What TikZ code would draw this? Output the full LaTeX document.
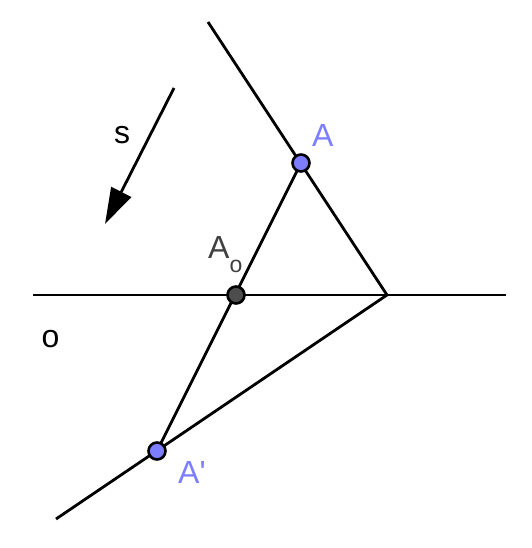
\documentclass[tikz,border=0pt]{standalone}
\usepackage{fontspec}
\newfontfamily\lblfont{Liberation Sans}
\usetikzlibrary{arrows.meta}
\definecolor{ptblue}{RGB}{125,125,255}
\definecolor{ptgray}{RGB}{77,77,77}
\definecolor{lblgray}{RGB}{64,64,64}
\tikzset{
  ln/.style={line width=2.8pt, black},
  pt/.style={circle, draw=black, line width=2.6pt, minimum size=17pt, inner sep=0pt},
  lbl/.style={inner sep=0pt, anchor=base west, font=\lblfont\fontsize{32}{32}\selectfont}
}
\begin{document}
\begin{tikzpicture}[x=1pt,y=-1pt]
\useasboundingbox (0,0) rectangle (531,548);
\coordinate (T) at (208,22);
\coordinate (V) at (387,295);
\coordinate (L) at (33,295);
\coordinate (R) at (506,295);
\coordinate (B) at (56,519);
\coordinate (S1) at (174,88);
\coordinate (S2) at (105,224);
\coordinate (pA) at (301,163);
\coordinate (pA0) at (236,295);
\coordinate (pA1) at (157,451);
% lines
\draw[ln] (T) -- (V);
\draw[ln] (L) -- (R);
\draw[ln] (V) -- (B);
\draw[ln] (pA) -- (pA1);
\draw[ln, -{Triangle[length=36pt,width=22pt]}] (S1) -- (S2);
% points
\node[pt, fill=ptblue] (A) at (pA) {};
\node[pt, fill=ptgray] (A0) at (pA0) {};
\node[pt, fill=ptblue] (A1) at (pA1) {};
% labels
\node[lbl] (s) at (114,144) {s};
\node[lbl] (o) at (41.5,347) {o};
\node[lbl, text=ptblue] (lA) at (312,147) {A};
\node[lbl, text=lblgray] (lA0) at (208,258) {A\raisebox{-14pt}{\fontsize{23}{23}\selectfont o}};
\node[lbl, text=ptblue] (lA1) at (178,483) {A'};
\end{tikzpicture}
\end{document}
